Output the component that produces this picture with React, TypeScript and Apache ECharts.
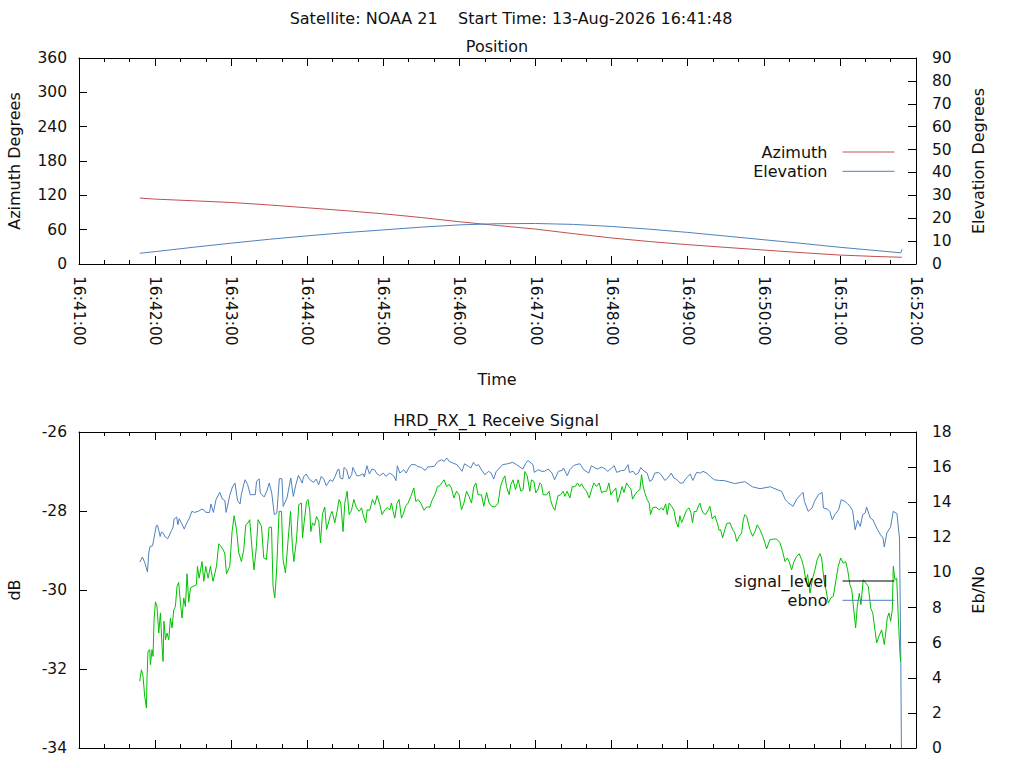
import React, { useEffect, useRef } from "react";
import * as echarts from "echarts";

// ---- Position panel (seconds after 16:41:00) ----
const posTime = [48, 60, 90, 120, 150, 180, 210, 240, 270, 300, 330, 360, 390, 420, 450, 480, 510, 540, 570, 600, 630, 648, 649];
const azimuth = [115.2, 113.4, 110.5, 107.5, 103.2, 98.2, 93.2, 87.7, 81.2, 73.8, 67.3, 61.0, 53.0, 45.5, 39.2, 33.8, 29.0, 24.4, 19.8, 15.6, 13.0, 11.8, 11.7];
const elevation = [4.7, 5.4, 7.3, 9.1, 10.8, 12.3, 13.7, 14.9, 16.1, 17.1, 17.6, 17.7, 17.3, 16.4, 15.2, 13.8, 12.2, 10.6, 9.0, 7.3, 5.8, 4.9, 6.4];

// ---- Receive signal panel: [seconds after 16:41:00, value] ----
const signalLevel: [number, number][] = [
  [47.9,-32.31],[49.2,-32.02],[50.5,-32.19],[51.8,-32.69],[53.2,-32.99],[53.6,-32.27],[54.4,-31.55],[55.8,-31.51],[56.3,-31.89],[57.6,-31.51],
  [58.4,-31.68],[59.2,-30.75],[60.3,-30.30],[61.5,-30.42],[62.9,-31.09],[64.2,-30.58],[65.5,-31.43],[66.3,-31.81],[67.0,-30.79],[68.2,-31.26],
  [69.4,-31.09],[70.8,-31.26],[72.1,-30.71],[73.4,-30.96],[74.7,-30.50],[76.0,-30.42],[77.3,-29.91],[78.6,-29.81],[80.0,-30.33],[81.2,-30.71],
  [82.6,-30.20],[83.9,-30.42],[85.2,-29.59],[86.5,-30.31],[87.9,-29.95],[89.9,-29.91],[92.6,-29.87],[93.4,-29.40],[94.7,-29.70],[97.0,-29.28],
  [98.4,-29.78],[99.9,-29.40],[101.8,-29.70],[103.6,-29.40],[105.7,-29.78],[108.4,-29.40],[110.2,-28.83],[112.3,-28.91],[114.9,-29.06],[116.3,-29.59],
  [118.9,-29.40],[120.7,-28.52],[122.3,-28.12],[124.2,-28.47],[126.0,-29.06],[128.1,-29.28],[129.9,-28.98],[131.5,-28.35],[133.3,-28.30],[134.6,-28.22],
  [136.5,-28.98],[138.0,-29.49],[139.9,-28.90],[141.2,-28.22],[143.9,-28.39],[145.7,-29.19],[147.8,-29.23],[149.9,-28.41],[151.8,-28.41],[153.0,-29.91],
  [154.4,-30.20],[155.7,-29.57],[157.8,-28.01],[159.7,-28.01],[160.9,-29.23],[162.8,-29.57],[164.9,-28.73],[166.8,-28.01],[168.3,-28.90],[169.4,-29.28],
  [171.5,-28.73],[173.3,-27.84],[175.4,-27.80],[176.2,-28.68],[177.5,-28.30],[179.4,-27.76],[180.6,-27.71],
  [182.0,-28.01],[182.8,-28.52],[184.1,-28.30],[185.7,-28.37],[187.3,-28.14],[189.1,-28.26],[190.4,-28.81],[192.0,-28.07],[193.8,-27.90],[195.2,-28.47],
  [197.0,-28.26],[198.3,-28.09],[199.6,-28.01],[201.7,-28.30],[203.5,-28.01],[205.1,-27.71],[206.4,-27.80],[208.2,-28.52],[209.6,-27.80],[211.4,-27.50],
  [213.0,-28.09],[214.9,-27.98],[216.7,-27.71],[218.8,-27.92],[220.9,-28.01],[222.8,-27.92],[224.0,-28.09],[226.1,-28.30],[227.2,-27.97],[229.3,-27.98],
  [231.4,-27.71],[233.2,-27.84],[235.1,-27.61],[237.2,-27.84],[239.0,-28.09],[241.1,-27.97],[243.0,-27.92],[245.1,-27.97],[246.4,-27.80],[247.7,-28.01],
  [249.0,-28.18],[250.8,-27.80],[252.4,-27.71],[254.3,-28.18],[255.6,-28.09],[257.5,-27.88],[259.5,-27.80],[261.6,-27.63],[264.0,-27.42],[265.6,-27.76],
  [267.4,-27.71],[269.5,-27.80],[272.1,-27.98],[274.0,-27.90],[276.6,-27.90],[278.4,-27.73],[280.6,-27.59],[282.7,-27.38],[284.5,-27.36],[286.3,-27.28],
  [287.9,-27.21],[289.8,-27.38],[291.9,-27.33],[293.7,-27.42],[295.6,-27.67],[297.7,-27.50],[299.7,-27.59],[301.6,-27.97],[303.5,-27.80],[305.6,-27.50],
  [307.6,-27.63],[309.5,-27.80],[311.3,-27.39],[312.9,-27.29],[314.7,-27.59],[317.4,-27.59],[319.2,-27.88],[321.4,-27.53],[323.4,-27.80],[325.3,-27.88],
  [327.9,-27.90],[330.5,-27.80],[332.4,-27.38],[334.4,-27.19],[335.8,-27.11],[337.1,-27.38],[339.2,-27.59],[340.5,-27.33],[342.3,-27.21],[344.2,-27.46],
  [346.3,-27.21],[348.4,-27.50],[350.2,-27.46],[351.6,-27.00],[353.4,-27.11],[355.5,-27.50],[356.8,-27.21],[358.7,-27.25],[360.2,-27.54],[362.1,-27.44],
  [363.4,-27.29],[364.7,-27.33],[366.0,-27.59],[368.7,-27.59],[370.7,-27.50],[371.8,-27.71],[373.4,-27.88],[375.2,-27.98],[376.6,-27.76],[377.8,-27.61],
  [379.7,-27.59],[381.8,-27.50],[383.1,-27.63],[384.9,-27.50],[387.1,-27.67],[388.9,-27.38],[391.0,-27.39],[393.1,-27.29],[394.9,-27.38],[396.3,-27.31],
  [398.1,-27.42],[400.2,-27.50],[402.3,-27.67],[404.2,-27.46],[406.0,-27.29],[408.1,-27.38],[410.2,-27.29],[412.1,-27.54],[413.9,-27.50],[416.0,-27.50],
  [417.8,-27.29],[419.4,-27.59],[421.2,-27.50],[423.3,-27.42],[424.7,-27.78],[426.5,-27.59],[428.3,-27.38],[429.7,-27.53],[431.8,-27.29],[433.6,-27.38],
  [435.2,-27.44],[436.5,-27.70],[438.3,-27.59],[440.5,-27.50],[442.3,-27.46],[443.6,-27.08],[444.9,-27.38],[446.2,-27.54],[448.0,-27.71],[449.6,-27.80],
  [450.7,-28.09],[452.3,-27.92],[454.9,-27.90],[457.5,-27.97],[459.4,-27.92],[460.7,-27.98],[462.6,-27.82],[463.8,-28.09],[465.4,-27.80],[467.3,-27.88],
  [469.1,-27.98],[470.7,-28.26],[472.5,-28.41],[473.8,-28.12],[475.2,-28.29],[477.0,-28.15],[479.1,-27.98],[480.9,-27.92],[482.5,-28.04],[483.8,-28.30],
  [485.1,-28.01],[487.0,-28.01],[488.3,-27.88],[489.6,-27.80],[491.0,-27.97],[492.2,-28.05],[494.1,-28.09],[496.2,-27.97],[497.5,-27.88],[499.3,-28.20],
  [501.4,-28.12],[503.3,-28.30],[504.8,-28.49],[505.9,-28.47],[507.5,-28.68],[509.3,-28.47],[510.7,-28.32],[513.3,-28.30],[515.4,-28.47],[517.2,-28.56],
  [518.6,-28.77],[520.6,-28.64],[522.5,-28.56],[523.8,-28.22],[525.1,-28.09],[526.5,-28.14],[529.0,-28.47],[531.2,-28.64],[533.0,-28.52],[534.8,-28.35],
  [536.9,-28.47],[539.1,-28.64],[540.9,-28.81],[542.2,-28.96],[544.8,-28.73],[547.4,-28.71],[550.1,-28.71],[552.7,-28.80],[554.8,-29.02],[556.7,-29.28],
  [558.5,-29.19],[560.0,-29.28],[561.9,-29.49],[563.8,-29.28],[565.9,-29.15],[567.9,-29.08],[569.8,-29.23],[571.6,-29.44],[573.2,-29.78],[574.5,-29.61],
  [576.4,-30.08],[578.5,-29.70],[580.3,-29.49],[582.1,-29.23],[584.3,-29.08],[585.6,-29.19],[587.4,-29.74],[589.0,-29.99],[590.8,-30.33],[592.9,-30.20],
  [594.8,-30.16],[596.9,-29.74],[598.7,-29.40],[600.6,-29.19],[602.6,-29.32],[604.5,-29.28],[606.1,-29.49],[607.9,-29.87],[609.3,-29.99],[610.5,-30.37],
  [612.4,-30.96],[613.7,-30.42],[615.3,-30.08],[616.6,-30.37],[618.4,-29.74],[620.3,-29.82],[622.4,-29.91],[624.3,-30.46],[625.9,-30.58],[627.6,-31.01],
  [629.0,-31.34],[630.8,-31.17],[632.9,-31.01],[635.0,-31.38],[636.1,-31.09],[637.3,-30.71],[638.7,-30.58],[640.0,-30.79],[641.3,-30.50],[642.1,-29.40],
  [643.4,-29.74],[644.8,-29.70],[646.0,-30.67],[647.4,-31.64],[647.9,-31.81]
];

const ebno: [number, number][] = [
  [48,10.59],[50,10.88],[52,10.54],[54,10.02],[55,11.11],[56,11.48],[58,11.52],[60,12.28],[61,12.68],[62,12.68],[64,12.05],[65,12.30],[66,12.28],[68,12.02],
  [70,11.92],[73,12.39],[74,12.53],[75,13.04],[77,13.16],[78,12.72],[79,13.06],[81,12.78],[83,12.47],[85,12.82],[87,13.08],[89,13.48],[91,13.42],[94,13.48],
  [97,13.61],[99,13.53],[100,13.42],[103,13.42],[104,13.90],[106,13.42],[108,14.14],[111,14.56],[113,14.18],[115,14.10],[116,13.42],[119,14.43],[121,14.87],
  [123,15.09],[125,14.09],[127,13.90],[128,14.43],[130,15.04],[131,15.28],[133,15.00],[135,14.43],[139,14.43],[140,15.19],[142,15.34],[143,14.52],[146,14.30],
  [148,14.62],[150,15.09],[152,14.52],[154,13.29],[156,13.39],[158,15.34],[160,15.34],[161,13.76],[164,14.24],[167,15.38],[169,14.33],[171,15.00],[173,15.53],
  [176,15.09],[177,15.44],[179,15.61],[182,15.28],[185,15.13],[187,15.32],[189,15.00],[191,15.47],[193,15.32],[195,14.94],[198,15.28],[200,15.19],[202,15.47],
  [204,15.85],[205,15.89],[206,15.38],[208,15.32],[209,15.98],[211,15.85],[213,15.32],[215,15.57],[216,15.98],[219,15.51],[221,15.51],[224,15.62],[225,15.44],
  [227,16.08],[229,15.61],[231,15.89],[233,15.85],[235,15.62],[237,15.51],[240,15.66],[242,15.47],[245,15.66],[248,15.51],[250,15.23],[251,16.08],[253,15.66],
  [256,15.85],[258,15.66],[260,15.95],[262,16.14],[265,16.14],[267,16.04],[270,15.98],[273,15.81],[275,16.01],[280,16.04],[283,16.32],[286,16.42],[288,16.32],
  [290,16.52],[292,16.32],[295,16.23],[298,16.14],[300,15.95],[302,15.76],[304,16.19],[307,16.04],[309,15.95],[311,16.27],[313,16.08],[315,16.14],[317,15.89],
  [320,15.57],[323,15.76],[325,15.66],[327,15.32],[329,15.76],[331,15.89],[334,16.14],[338,16.19],[342,16.27],[345,16.14],[350,15.89],[352,16.19],[354,16.38],
  [358,16.14],[359,15.70],[362,15.85],[365,15.76],[367,15.76],[370,15.89],[373,15.66],[375,15.28],[378,15.76],[381,15.81],[382,15.95],[385,15.51],[387,15.85],
  [390,16.08],[392,16.14],[395,16.19],[398,15.85],[402,15.66],[404,16.08],[407,15.95],[409,15.89],[412,16.01],[415,15.89],[417,15.76],[420,15.95],[422,16.08],
  [424,15.70],[428,15.81],[430,15.81],[433,16.14],[434,15.70],[437,15.76],[439,15.57],[441,15.66],[443,15.98],[445,15.81],[448,15.66],[450,15.19],[452,15.28],
  [454,15.66],[457,15.70],[459,15.57],[462,15.24],[465,15.44],[467,15.66],[469,15.38],[471,15.32],[474,15.09],[476,15.09],[479,15.38],[482,15.61],[484,15.24],
  [487,15.70],[490,15.66],[492,15.76],[495,15.66],[498,15.44],[501,15.28],[505,15.24],[509,15.23],[517,15.06],[525,15.17],[531,14.88],[537,14.77],[545,14.88],
  [554,14.62],[557,14.14],[559,13.99],[563,13.76],[566,14.18],[569,14.43],[571,14.56],[572,14.05],[575,13.48],[578,13.67],[580,14.05],[583,14.43],[586,14.56],
  [587,13.67],[590,13.61],[592,13.48],[594,13.00],[596,13.29],[599,13.57],[601,14.14],[604,14.05],[606,13.92],[608,13.76],[610,13.53],[612,12.43],[614,12.96],
  [616,12.62],[618,13.29],[620,13.39],[621,13.73],[624,13.10],[626,13.00],[629,12.53],[632,12.15],[634,11.96],[635,11.45],[637,12.25],[640,12.59],[641,13.04],
  [642,13.48],[645,13.35],[646,12.62],[647,11.96],[648,5.22],[648.5,0]
];

const FONT = "'DejaVu Sans', sans-serif";
const TXT = "#111111";
const RED = "#c0504d";
const BLUE = "#4f81bd";
const GREEN = "#00c000";
const NB = "\u00a0";

const timeLabel = (v: number) => `16:${41 + Math.round(v / 60)}:00`;

function xAxes(gridIndex: number, showLabels: boolean) {
  const base = {
    gridIndex,
    type: "value",
    min: 0,
    max: 660,
    interval: 60,
    splitLine: { show: false },
    axisLine: { show: true, onZero: false, lineStyle: { color: "#000", width: 1 } },
    axisTick: { show: true, inside: true, length: 8, lineStyle: { color: "#000", width: 1 } },
    minorTick: { show: true, splitNumber: 3, length: 4, lineStyle: { color: "#000", width: 1 } },
  };
  return [
    {
      ...base,
      position: "bottom",
      axisLabel: {
        show: showLabels,
        rotate: -90,
        margin: 12,
        formatter: timeLabel,
        fontSize: 15.5,
        fontFamily: FONT,
        color: TXT,
      },
    },
    { ...base, position: "top", axisLabel: { show: false } },
  ];
}

function yAxis(gridIndex: number, min: number, max: number, interval: number, position: string) {
  return {
    gridIndex,
    type: "value",
    min,
    max,
    interval,
    position,
    splitLine: { show: false },
    axisLine: { show: true, onZero: false, lineStyle: { color: "#000", width: 1 } },
    axisTick: { show: true, inside: true, length: 8, lineStyle: { color: "#000", width: 1 } },
    axisLabel: {
      margin: position === "left" ? 12 : 16,
      fontSize: 15.5,
      fontFamily: FONT,
      color: TXT,
    },
  };
}

function txt(text: string, x: number, y: number, rotate = false) {
  return {
    type: "text",
    x,
    y,
    rotation: rotate ? Math.PI / 2 : 0,
    silent: true,
    style: {
      text,
      fill: TXT,
      fontSize: 16,
      fontFamily: FONT,
      align: "center",
      verticalAlign: "middle",
    },
  };
}

function legend(name: string, top: number, color: string) {
  return {
    data: [{ name, lineStyle: { color, width: 1 }, itemStyle: { color: "rgba(0,0,0,0)", opacity: 0 } }],
    right: 129,
    top,
    padding: 0,
    align: "right",
    orient: "vertical",
    itemWidth: 52,
    itemHeight: 14,
    selectedMode: false,
    itemStyle: { opacity: 0 },
    lineStyle: { width: 1 },
    textStyle: { fontSize: 16, fontFamily: FONT, color: TXT, padding: [0, 10, 0, 0] },
  };
}

export default function App() {
  const ref = useRef<HTMLDivElement>(null);
  useEffect(() => {
    if (!ref.current) return;
    const chart = echarts.init(ref.current, undefined, { renderer: "svg" });
    const line = (name: string, color: string, data: any[], xi: number, yi: number) => ({
      name,
      type: "line",
      data,
      xAxisIndex: xi,
      yAxisIndex: yi,
      symbol: "none",
      showSymbol: false,
      silent: true,
      lineStyle: { color, width: 1 },
      itemStyle: { color },
    });
    chart.setOption({
      animation: false,
      backgroundColor: "#ffffff",
      grid: [
        { left: 79, right: 108, top: 58, height: 206 },
        { left: 79, right: 108, top: 432, height: 316 },
      ],
      xAxis: [...xAxes(0, true), ...xAxes(1, false)],
      yAxis: [
        yAxis(0, 0, 360, 60, "left"),
        yAxis(0, 0, 90, 10, "right"),
        yAxis(1, -34, -26, 2, "left"),
        yAxis(1, 0, 18, 2, "right"),
      ],
      legend: [
        legend("Azimuth", 144, RED),
        legend("Elevation", 163.3, BLUE),
        legend("signal_level", 573, "#000000"),
        legend("ebno", 592.3, BLUE),
      ],
      series: [
        line("Azimuth", RED, posTime.map((t, i) => [t, azimuth[i]]), 0, 0),
        line("Elevation", BLUE, posTime.map((t, i) => [t, elevation[i]]), 0, 1),
        line("ebno", BLUE, ebno, 2, 3),
        line("signal_level", GREEN, signalLevel, 2, 2),
      ],
      graphic: [
        txt(`Satellite: NOAA 21${NB}${NB}${NB}${NB}Start Time: 13-Aug-2026 16:41:48`, 511, 18),
        txt("Position", 497, 46),
        txt("Time", 497, 379),
        txt("HRD_RX_1 Receive Signal", 496, 420),
        txt("Azimuth Degrees", 14, 161, true),
        txt("Elevation Degrees", 978, 161, true),
        txt("dB", 14, 590, true),
        txt("Eb/No", 978, 590, true),
      ],
    });
    return () => chart.dispose();
  }, []);
  return (
    <div
      ref={ref}
      style={{ position: "fixed", left: 0, top: 0, width: 1024, height: 768, background: "#fff" }}
    />
  );
}
